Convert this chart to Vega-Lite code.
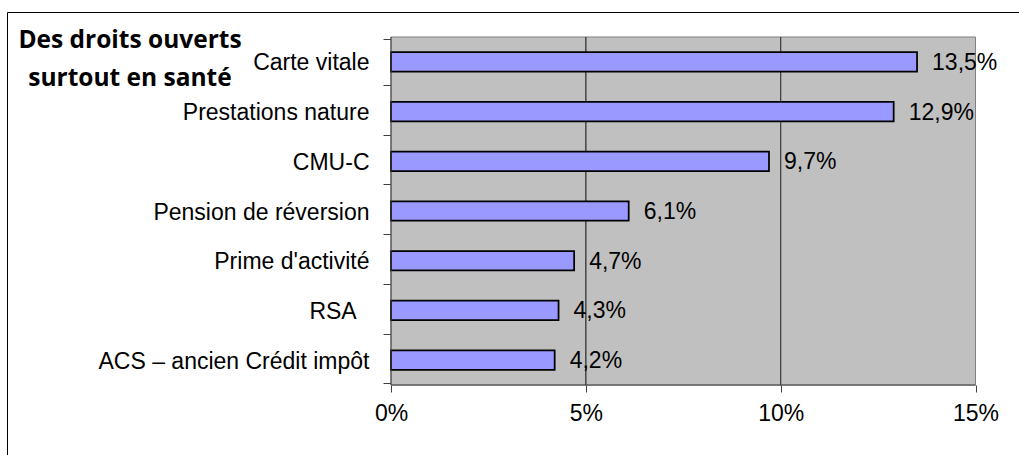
{
  "$schema": "https://vega.github.io/schema/vega-lite/v6.json",
  "width": 1013,
  "height": 444,
  "autosize": {"type": "none"},
  "padding": {"left": 7, "top": 12, "right": -1, "bottom": -1},
  "background": "white",
  "config": {
    "view": {"stroke": "black", "strokeWidth": 1},
    "font": "Liberation Sans",
    "locale": {"number": {"decimal": ",", "thousands": " ", "grouping": [3], "currency": ["", " €"]}},
    "axisY": {
      "title": null,
      "domain": false,
      "ticks": true,
      "tickBand": "extent",
      "tickSize": 8,
      "tickColor": "#404040",
      "tickWidth": 1,
      "labelFont": "Liberation Sans",
      "labelFontSize": 23,
      "labelColor": "black",
      "labelPadding": 14,
      "labelLimit": 400,
      "labelAlign": "right",
      "labelBaseline": "middle",
      "labelOffset": 1,
      "offset": -384,
      "grid": false
    },
    "axisX": {
      "title": null,
      "domain": false,
      "format": ".0%",
      "tickSize": 7,
      "tickColor": "#404040",
      "tickWidth": 1,
      "labelFont": "Liberation Sans",
      "labelFontSize": 23,
      "labelColor": "black",
      "labelPadding": 10,
      "labelFlush": false,
      "labelOverlap": false,
      "offset": -71,
      "grid": false
    }
  },
  "title": {
    "text": ["Des droits ouverts", "surtout en santé"],
    "anchor": "start",
    "align": "center",
    "frame": "group",
    "orient": "top",
    "offset": 0,
    "baseline": "alphabetic",
    "dx": 123,
    "dy": 109,
    "lineHeight": 38,
    "font": "Open Sans",
    "fontWeight": "bold",
    "fontSize": 24.5,
    "color": "black"
  },
  "data": {
    "values": [
      {"categorie": "Carte vitale", "taux": 0.135},
      {"categorie": "Prestations nature", "taux": 0.129},
      {"categorie": "CMU-C", "taux": 0.097},
      {"categorie": "Pension de réversion", "taux": 0.061},
      {"categorie": "Prime d'activité", "taux": 0.047},
      {"categorie": "RSA\u00a0\u00a0\u200b", "taux": 0.043},
      {"categorie": "ACS – ancien Crédit impôt", "taux": 0.042}
    ]
  },
  "layer": [
    {
      "data": {"values": [{"zone": "fond"}]},
      "mark": {"type": "bar", "height": {"band": 7.5269}, "fill": "#C0C0C0", "stroke": "#808080", "strokeWidth": 1},
      "encoding": {
        "x": {"datum": 0, "type": "quantitative", "axis": {"values": [0, 0.05, 0.1, 0.15]}},
        "x2": {"datum": 0.15},
        "y": {"datum": "Pension de réversion", "type": "nominal"}
      }
    },
    {
      "data": {"values": [{"g": 0.05}, {"g": 0.1}]},
      "mark": {"type": "bar", "height": {"band": 7.5269}, "fill": "#C0C0C0", "fillOpacity": 0, "stroke": "#404040", "strokeWidth": 1},
      "encoding": {
        "x": {"field": "g", "type": "quantitative", "axis": {"values": [0, 0.05, 0.1, 0.15]}},
        "x2": {"field": "g"},
        "y": {"datum": "Pension de réversion", "type": "nominal"}
      }
    },
    {
      "mark": {"type": "bar", "height": {"band": 0.42}, "fill": "#9999FF", "stroke": "black", "strokeWidth": 1.75},
      "encoding": {
        "y": {
          "field": "categorie",
          "type": "nominal",
          "scale": {
            "domain": ["Carte vitale", "Prestations nature", "CMU-C", "Pension de réversion", "Prime d'activité", "RSA\u00a0\u00a0\u200b", "ACS – ancien Crédit impôt"],
            "paddingInner": 0.07,
            "paddingOuter": 1,
            "align": 0.2689,
            "round": false
          }
        },
        "x": {
          "field": "taux",
          "type": "quantitative",
          "scale": {"domain": [-0.098546, 0.16142], "nice": false, "zero": false},
          "axis": {"values": [0, 0.05, 0.1, 0.15]}
        }
      }
    },
    {
      "data": {"values": [{"zone": "bord"}]},
      "mark": {"type": "bar", "height": {"band": 7.5269}, "fill": "#C0C0C0", "fillOpacity": 0, "stroke": "#404040", "strokeWidth": 1, "strokeDash": [0, 932.5, 940]},
      "encoding": {
        "x": {"datum": 0, "type": "quantitative", "axis": {"values": [0, 0.05, 0.1, 0.15]}},
        "x2": {"datum": 0.15},
        "y": {"datum": "Pension de réversion", "type": "nominal"}
      }
    },
    {
      "mark": {"type": "text", "align": "left", "baseline": "middle", "dx": 15, "dy": 1, "font": "Liberation Sans", "fontSize": 23, "color": "black"},
      "encoding": {
        "x": {"field": "taux", "type": "quantitative", "axis": {"values": [0, 0.05, 0.1, 0.15]}},
        "y": {"field": "categorie", "type": "nominal"},
        "text": {"field": "taux", "type": "quantitative", "format": ".1%"}
      }
    }
  ]
}
